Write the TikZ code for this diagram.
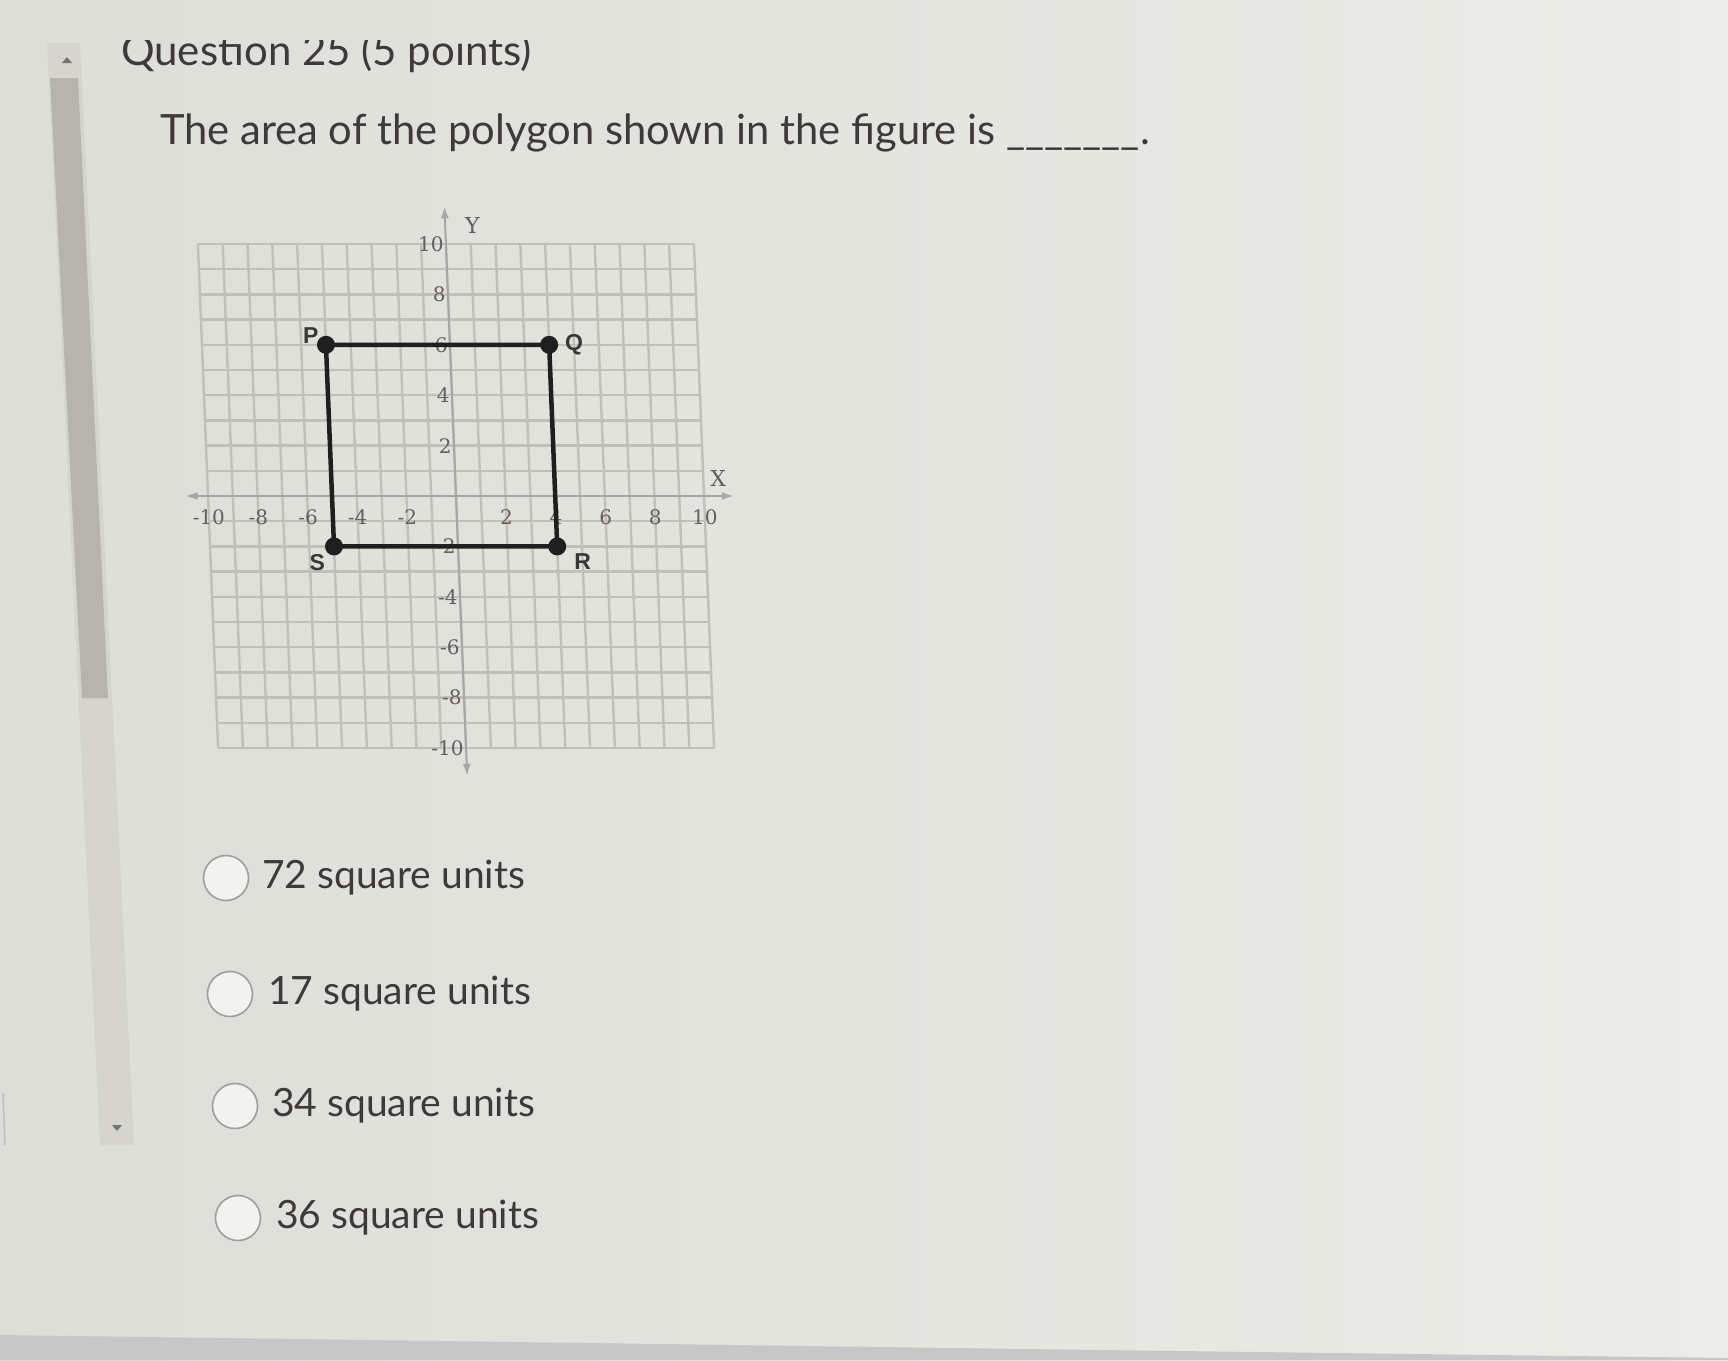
\documentclass[tikz,border=0pt]{standalone}
\usepackage{fontspec}
\setmainfont{Lato}
\newfontfamily\axfont{DejaVu Serif}
\newfontfamily\ptfont{Liberation Sans}
\usetikzlibrary{arrows.meta}
\definecolor{bgL}{HTML}{DEDED8}
\definecolor{bgR}{HTML}{ECECE8}
\definecolor{txt}{HTML}{3E3A38}
\definecolor{gridc}{HTML}{C2BFB8}
\definecolor{axc}{HTML}{A8A6A2}
\definecolor{lblc}{HTML}{625F5C}
\definecolor{thumbc}{HTML}{B6B4AE}
\definecolor{trackc}{HTML}{D5D4CF}
\tikzset{
  gridline/.style={draw=gridc, line width=2.4pt},
  axisline/.style={draw=axc, line width=2pt, {Latex[length=12pt,width=8pt]}-{Latex[length=12pt,width=8pt]}},
  ticklbl/.style={font=\axfont\fontsize{20}{20}\selectfont, text=lblc, inner sep=1pt},
  vertex/.style={circle, fill=black!88, inner sep=0pt, minimum size=18pt},
  vlabel/.style={font=\ptfont\bfseries\fontsize{23}{23}\selectfont, text=black!78},
  poly/.style={draw=black!88, line width=4.5pt, line join=round},
  radio/.style={circle, draw=black!38, line width=1.6pt, fill=white!60!bgL, minimum size=45pt, inner sep=0pt},
  choice/.style={font=\fontsize{39}{39}\selectfont, text=txt, anchor=west, inner sep=0pt}
}
\begin{document}
\begin{tikzpicture}[x=1pt,y=-1pt]
% background
\fill[left color=bgL, right color=bgR] (0,0) rectangle (1728,1360);
\useasboundingbox (0,0) rectangle (1728,1360);
% bottom band
\fill[black!22] (0,1335) -- (1100,1350) -- (1728,1358) -- (1728,1360) -- (0,1360) -- cycle;
% scrollbar
\fill[trackc] (47,43) -- (80,43) -- (134,1145) -- (100,1145) -- cycle;
\fill[thumbc] (50,78) -- (78,78) -- (108,698) -- (82,698) -- cycle;
\fill[black!55] (62,63) -- (72,63) -- (67,57) -- cycle;
\fill[black!55] (112,1125) -- (122,1125) -- (117,1131) -- cycle;
\draw[black!25, line width=1.5pt] (3,1093) -- (5,1145);
% title (top clipped)
\begin{scope}
\clip (100,40) rectangle (700,100);
\node[font=\fontsize{42}{42}\selectfont, text=txt, anchor=base west, inner sep=0pt] (title) at (121,65) {Question 25 (5 points)};
\end{scope}
\node[font=\fontsize{41.7}{41.7}\selectfont, text=txt, anchor=base west, inner sep=0pt] (question) at (160,144) {The area of the polygon shown in the figure is \_\_\_\_\_\_\_.};
% graph
\begin{scope}[shift={(456,496)}, x=24.8pt, y=25.2pt, xslant=-0.04]
  \foreach \i in {-10,...,10} {
    \draw[gridline] (\i,-10) -- (\i,10);
    \draw[gridline] (-10,\i) -- (10,\i);
  }
  \coordinate (xl) at (-10.9,0); \coordinate (xr) at (11.2,0);
  \coordinate (yt) at (0,11.5); \coordinate (yb) at (0,-11.1);
  \draw[axisline] (xl) -- (xr);
  \draw[axisline] (yb) -- (yt);
  \foreach \i in {-10,-8,-6,-4,-2,2,4,6,8,10} {
    \node[ticklbl] (xt\i) at (\i,-0.85) {\i};
    \node[ticklbl, anchor=east] (yt\i) at (-0.05,\i) {\i};
  }
  \node[ticklbl, font=\axfont\fontsize{22}{22}\selectfont] (ylab) at (1.1,10.75) {Y};
  \node[ticklbl, font=\axfont\fontsize{22}{22}\selectfont] (xlab) at (10.6,0.7) {X};
  \node[vertex] (P) at (-5,6) {};
  \node[vertex] (Q) at (4,6) {};
  \node[vertex] (R) at (4,-2) {};
  \node[vertex] (S) at (-5,-2) {};
  \draw[poly] (P.center) -- (Q.center) -- (R.center) -- (S.center) -- cycle;
  \node[vlabel] (Pl) at (-5.6,6.35) {P};
  \node[vlabel] (Ql) at (5.0,6) {Q};
  \node[vlabel] (Rl) at (5.0,-2.6) {R};
  \node[vlabel] (Sl) at (-5.7,-2.65) {S};
\end{scope}
% choices
\node[radio] (c1) at (226,878) {};
\node[choice] (t1) at (262,878) {72 square units};
\node[radio] (c2) at (230,994) {};
\node[choice] (t2) at (268,994) {17 square units};
\node[radio] (c3) at (235,1106) {};
\node[choice] (t3) at (272,1106) {34 square units};
\node[radio] (c4) at (238,1218) {};
\node[choice] (t4) at (276,1218) {36 square units};
\end{tikzpicture}
\end{document}
